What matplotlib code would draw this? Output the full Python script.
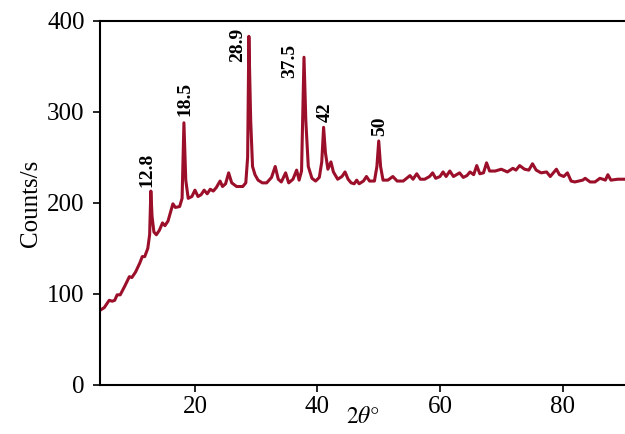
import matplotlib
matplotlib.use("Agg")
import matplotlib.pyplot as plt

two_theta = [4.5, 5.2, 6.0, 6.5, 6.9, 7.3, 7.8, 8.5, 9.3, 9.7, 10.3, 11.0, 11.4, 11.8,
             12.3, 12.6, 12.8, 13.0, 13.3, 13.7, 14.2, 14.7, 15.1, 15.6, 16.4, 16.8,
             17.5, 17.9, 18.2, 18.5, 18.9, 19.5, 20.0, 20.5, 21.0, 21.5, 22.0, 22.5,
             23.0, 23.5, 24.1, 24.5, 25.0, 25.5, 26.0, 26.8, 27.8, 28.3, 28.6, 28.8,
             29.1, 29.4, 29.8, 30.3, 31.0, 31.7, 32.5, 33.1, 33.6, 34.1, 34.8, 35.3,
             36.0, 36.6, 37.0, 37.4, 37.8, 38.1, 38.5, 39.1, 39.7, 40.3, 40.7, 41.0,
             41.3, 41.7, 42.2, 42.6, 43.3, 44.0, 44.5, 45.0, 45.5, 46.0, 46.4, 46.8,
             47.5, 48.0, 48.5, 49.3, 49.7, 50.0, 50.3, 50.7, 51.5, 52.3, 53.0, 54.0,
             55.1, 55.6, 56.2, 56.8, 57.5, 58.3, 58.8, 59.3, 60.0, 60.5, 61.0, 61.6,
             62.2, 63.2, 63.8, 64.4, 64.9, 65.5, 66.0, 66.5, 67.1, 67.6, 68.1, 69.0,
             70.0, 71.0, 71.9, 72.4, 73.0, 73.8, 74.5, 75.1, 75.7, 76.5, 77.4, 78.0,
             79.0, 79.5, 80.2, 80.8, 81.4, 82.0, 83.3, 83.7, 84.5, 85.3, 86.1, 86.6,
             87.0, 87.4, 87.9, 89.0, 90.2]
counts = [82, 85, 93, 92, 93, 99, 99, 108, 119, 118, 124, 134, 141, 141,
          150, 165, 213, 185, 168, 165, 170, 178, 175, 180, 199, 195,
          196, 205, 288, 225, 205, 207, 214, 207, 209, 214, 210, 215,
          213, 217, 224, 218, 221, 233, 222, 218, 218, 222, 250, 383,
          290, 240, 231, 225, 222, 222, 228, 240, 226, 223, 233, 222,
          226, 236, 225, 235, 360, 290, 240, 227, 224, 228, 245, 283,
          255, 237, 245, 234, 226, 229, 234, 226, 222, 221, 225, 221,
          224, 229, 224, 224, 240, 268, 240, 225, 225, 229, 224, 224,
          230, 226, 232, 226, 226, 229, 233, 227, 229, 234, 229, 235,
          229, 233, 228, 230, 234, 231, 241, 232, 233, 244, 235, 235,
          237, 234, 238, 236, 241, 237, 236, 243, 236, 233, 234, 229,
          237, 231, 229, 233, 224, 223, 225, 227, 223, 223, 227, 226,
          225, 231, 225, 226, 226]

peak_labels = ["12.8", "18.5", "28.9", "37.5", "42", "50"]
label_x = [12.2, 18.4, 27.0, 35.5, 41.2, 50.2]
label_y = [218, 296, 355, 337, 289, 273]

x_ticks = [20, 40, 60, 80]
y_ticks = [0, 100, 200, 300, 400]

plt.rcParams['font.family'] = ['Liberation Serif', 'DejaVu Serif']
plt.rcParams['mathtext.fontset'] = 'stix'

fig = plt.figure(figsize=(6.25, 4.34), dpi=100)
ax = fig.add_axes([0.16, 0.113, 0.84, 0.839])

ax.plot(two_theta, counts, color='#9b0f2a', linewidth=2.2, solid_joinstyle='round')

for lab, lx, ly in zip(peak_labels, label_x, label_y):
    ax.text(lx, ly, lab, rotation=90, ha='center', va='bottom',
            fontsize=14, fontweight='bold', color='black')

ax.set_xlim(4.5, 90.2)
ax.set_ylim(0, 400)
ax.set_xticks(x_ticks)
ax.set_yticks(y_ticks)
ax.tick_params(axis='both', labelsize=18, direction='out', length=5, width=1.2)
ax.tick_params(axis='y', pad=6)
ax.tick_params(axis='x', pad=3)
ax.spines['right'].set_visible(False)
for s in ['left', 'bottom', 'top']:
    ax.spines[s].set_linewidth(1.5)

ax.set_ylabel('Counts/s', fontsize=18, labelpad=4)
ax.set_xlabel(r'$2\theta°$', fontsize=17, labelpad=-8)

fig.savefig('out.png', dpi=100)
